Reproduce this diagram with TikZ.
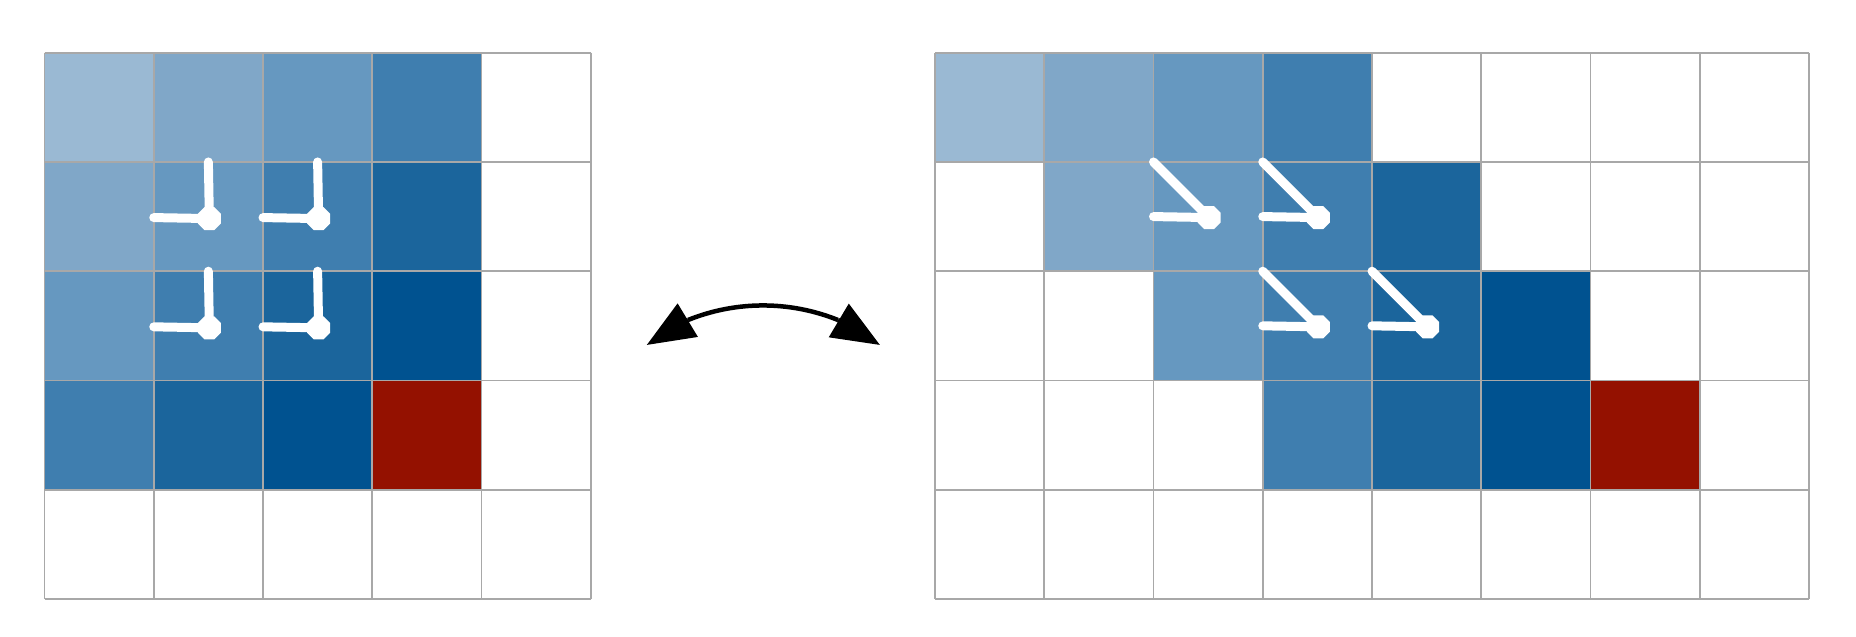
\documentclass[tikz,border=0pt]{standalone}
\usetikzlibrary{arrows.meta,shapes.geometric}
\definecolor{c1}{HTML}{9AB9D3}
\definecolor{c2}{HTML}{80A7C8}
\definecolor{c3}{HTML}{6698C0}
\definecolor{c4}{HTML}{3F7EAF}
\definecolor{c5}{HTML}{1B659C}
\definecolor{c6}{HTML}{005290}
\definecolor{rd}{HTML}{941100}
\definecolor{gridgray}{HTML}{A8A8A8}
\tikzset{
  gridline/.style={draw=gridgray,line width=1.6pt},
  dot/.style={regular polygon,regular polygon sides=8,fill=white,draw=none,inner sep=0pt,minimum size=25pt},
  pathstroke/.style={draw=white,line width=9pt,line cap=round},
  arrowline/.style={draw=black,line width=4.5pt},
  arrowtip/.style={draw=black,line width=4.5pt,-{Triangle[length=48pt,width=38pt]}}
}
\begin{document}
\begin{tikzpicture}[x=1pt,y=-1pt]
\useasboundingbox (0,0) rectangle (1856,637);
\def\s{109.25}
% left grid cells
\foreach \r/\c/\k in {0/0/c1,0/1/c2,0/2/c3,0/3/c4,
                      1/0/c2,1/1/c3,1/2/c4,1/3/c5,
                      2/0/c3,2/1/c4,2/2/c5,2/3/c6,
                      3/0/c4,3/1/c5,3/2/c6,3/3/rd}
  \fill[\k] ({44.5+\c*\s},{52.7+\r*\s}) rectangle ++(\s,\s);
% right grid cells
\foreach \r/\c/\k in {0/0/c1,0/1/c2,0/2/c3,0/3/c4,
                      1/1/c2,1/2/c3,1/3/c4,1/4/c5,
                      2/2/c3,2/3/c4,2/4/c5,2/5/c6,
                      3/3/c4,3/4/c5,3/5/c6,3/6/rd}
  \fill[\k] ({935+\c*\s},{52.7+\r*\s}) rectangle ++(\s,\s);
% grid lines
\foreach \i in {0,...,5} {
  \draw[gridline] ({44.5+\i*\s},52.7) -- ++(0,5*\s);
  \draw[gridline] (44.5,{52.7+\i*\s}) -- ++(5*\s,0);
  \draw[gridline] (935,{52.7+\i*\s}) -- ++(8*\s,0);
}
\foreach \i in {0,...,8}
  \draw[gridline] ({935+\i*\s},52.7) -- ++(0,5*\s);
% left strokes: up and left predecessors
\foreach \r/\c in {1/1,1/2,2/1,2/2} {
  \coordinate (Lt\r\c) at ({44.5+(\c+0.5)*\s},{52.7+\r*\s});
  \coordinate (Ll\r\c) at ({44.5+\c*\s},{52.7+(\r+0.5)*\s+1});
  \node[dot] (Ld\r\c) at ({44.5+(\c+0.5)*\s+1},{52.7+(\r+0.5)*\s+2}) {};
  \draw[pathstroke] (Lt\r\c) -- (Ld\r\c.center);
  \draw[pathstroke] (Ll\r\c) -- (Ld\r\c.center);
}
% right strokes: diagonal and left predecessors
\foreach \r/\c in {1/2,1/3,2/3,2/4} {
  \coordinate (Rt\r\c) at ({935+\c*\s},{52.7+\r*\s});
  \coordinate (Rl\r\c) at ({935+\c*\s},{52.7+(\r+0.5)*\s});
  \node[dot] (Rd\r\c) at ({935+(\c+0.5)*\s+1},{52.7+(\r+0.5)*\s+1}) {};
  \draw[pathstroke] (Rt\r\c) -- (Rd\r\c.center);
  \draw[pathstroke] (Rl\r\c) -- (Rd\r\c.center);
}
% double arrow
\coordinate (aL) at (646.7,345);
\coordinate (aR) at (880,345);
\coordinate (bL) at (688,320);
\coordinate (bR) at (838,320);
\draw[arrowline] (bL) .. controls (736.2,300.6) and (789.8,300.6) .. (bR);
\draw[arrowtip] (bL) -- (aL);
\draw[arrowtip] (bR) -- (aR);
\end{tikzpicture}
\end{document}
